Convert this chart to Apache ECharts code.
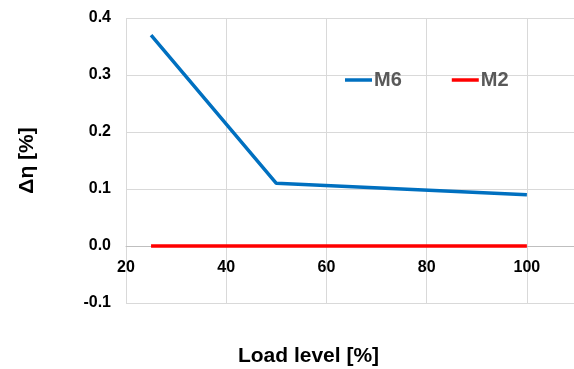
<!DOCTYPE html>
<html>
<head>
<meta charset="utf-8">
<script src="https://cdn.jsdelivr.net/npm/echarts@6/dist/echarts.min.js"></script>
<style>
html,body{margin:0;padding:0;background:#fff;}
#chart{width:574px;height:369px;}
</style>
</head>
<body>
<div id="chart"></div>
<script>
// Load levels (%) and efficiency difference (%) per machine
const loadLevels = [25, 50, 100];
const m6Values = [0.37, 0.11, 0.09];
const m2Values = [0.0, 0.0, 0.0];
const seriesNames = ['M6', 'M2'];

const pair = (xs, ys) => xs.map((x, i) => [x, ys[i]]);

const chart = echarts.init(document.getElementById('chart'), null, {renderer: 'canvas'});
const gridColor = '#d9d9d9';
const tickFont = {fontFamily: 'Liberation Sans', fontWeight: 'bold', fontSize: 16, color: '#000'};

chart.setOption({
  animation: false,
  grid: {left: 126, right: -3, top: 18, bottom: 66, containLabel: false, outerBoundsMode: 'none'},
  legend: {
    data: seriesNames,
    icon: 'rect',
    left: 345,
    top: 70,
    padding: 0,
    itemWidth: 27,
    itemHeight: 3.5,
    itemGap: 50,
    textStyle: {fontFamily: 'Liberation Sans', fontWeight: 'bold', fontSize: 20, color: '#595959', padding: [0, 0, 0, -3]}
  },
  xAxis: {
    type: 'value',
    min: 20, max: 110, interval: 20,
    // horizontal axis crosses the value axis at 0 (one step above the bottom edge)
    offset: -57,
    axisLine: {show: true, onZero: false, lineStyle: {color: '#bfbfbf', width: 1}},
    axisTick: {show: false},
    axisLabel: Object.assign({margin: 14, showMaxLabel: false}, tickFont),
    splitLine: {show: true, lineStyle: {color: gridColor, width: 1}},
    name: 'Load level [%]',
    nameLocation: 'middle',
    nameGap: 100,
    nameTextStyle: {fontFamily: 'Liberation Sans', fontWeight: 'bold', fontSize: 21, color: '#000', padding: [0, 86, 0, 0]}
  },
  yAxis: {
    type: 'value',
    min: -0.1, max: 0.4, interval: 0.1,
    axisLine: {show: false},
    axisTick: {show: false},
    axisLabel: Object.assign({margin: 15, formatter: v => v.toFixed(1)}, tickFont),
    splitLine: {show: true, lineStyle: {color: gridColor, width: 1}},
    name: 'Δη [%]',
    nameLocation: 'middle',
    nameGap: 88,
    nameRotate: 90,
    nameTextStyle: {fontFamily: 'Liberation Sans', fontWeight: 'bold', fontSize: 21, color: '#000'}
  },
  series: [
    {
      name: seriesNames[0],
      type: 'line',
      data: pair(loadLevels, m6Values),
      symbol: 'none',
      lineStyle: {color: '#0070c0', width: 3.5},
      itemStyle: {color: '#0070c0'}
    },
    {
      name: seriesNames[1],
      type: 'line',
      data: pair(loadLevels, m2Values),
      symbol: 'none',
      lineStyle: {color: '#ff0000', width: 3.5},
      itemStyle: {color: '#ff0000'}
    }
  ]
});
</script>
</body>
</html>
